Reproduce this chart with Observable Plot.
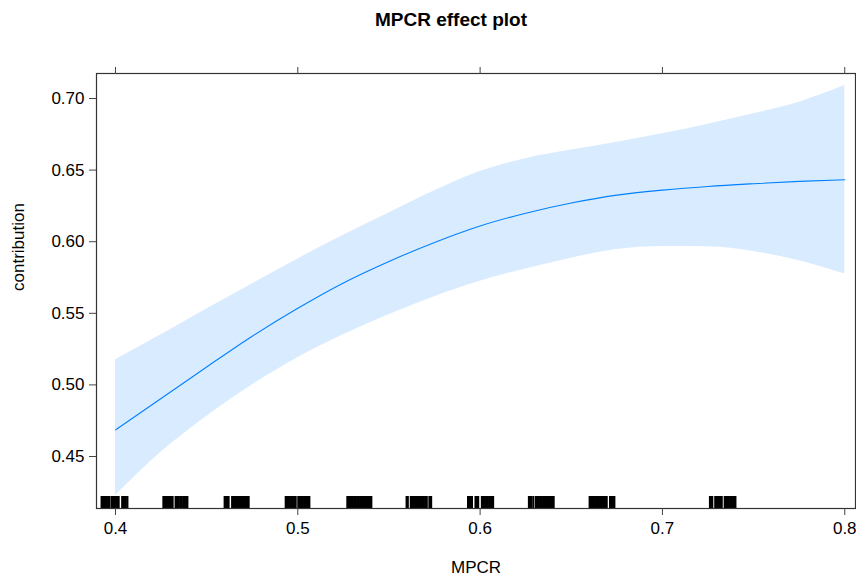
<!DOCTYPE html>
<html>
<head>
<meta charset="utf-8">
<script src="https://cdn.jsdelivr.net/npm/d3@7"></script>
<script src="https://cdn.jsdelivr.net/npm/@observablehq/plot@0.6"></script>
<style>
  html, body { margin: 0; padding: 0; background: #fff; }
  body { width: 856px; height: 579px; overflow: hidden; font-family: "Liberation Sans", Arial, sans-serif; }
  #title { height: 40px; line-height: 40px; text-align: center; font-weight: bold; font-size: 19px; color: #000; padding-left: 46px; box-sizing: border-box; }
</style>
</head>
<body>
<div id="title">MPCR effect plot</div>
<div id="chart"></div>
<script>
// MPCR grid values
const mpcr = [0.4, 0.425, 0.45, 0.475, 0.5, 0.525, 0.55, 0.575, 0.6, 0.625, 0.65, 0.675, 0.7, 0.725, 0.75, 0.775, 0.8];
// fitted contribution
const fit = [0.4686, 0.4905, 0.5125, 0.5340, 0.5535, 0.5712, 0.5862, 0.5995, 0.6110, 0.6199, 0.6270, 0.6325, 0.6360, 0.6386, 0.6405, 0.6421, 0.6433];
// confidence band
const upper = [0.5175, 0.5350, 0.5530, 0.5705, 0.5880, 0.6045, 0.6200, 0.6355, 0.6490, 0.6580, 0.6640, 0.6695, 0.6753, 0.6820, 0.6893, 0.6974, 0.7090];
const lower = [0.4228, 0.4530, 0.4780, 0.5000, 0.5190, 0.5350, 0.5490, 0.5615, 0.5723, 0.5810, 0.5885, 0.5945, 0.5967, 0.5965, 0.5932, 0.5867, 0.5774];
// rug (jittered observed MPCR values)
const rug = [
  0.3924, 0.3929, 0.3935, 0.3941, 0.3946, 0.3952, 0.3960, 0.3966, 0.3979, 0.3985, 0.3991, 0.3998, 0.4004, 0.4010, 0.4017, 0.4037, 0.4043, 0.4049, 0.4056, 0.4065,
  0.4263, 0.4269, 0.4276, 0.4283, 0.4290, 0.4297, 0.4305, 0.4313, 0.4330, 0.4338, 0.4346, 0.4355, 0.4363, 0.4372, 0.4380, 0.4388, 0.4394,
  0.4599, 0.4605, 0.4612, 0.4620, 0.4640, 0.4648, 0.4656, 0.4664, 0.4672, 0.4680, 0.4689, 0.4697, 0.4705, 0.4714, 0.4722, 0.4730,
  0.4934, 0.4941, 0.4948, 0.4956, 0.4964, 0.4972, 0.4980, 0.4988, 0.5003, 0.5011, 0.5019, 0.5027, 0.5035, 0.5043, 0.5051, 0.5058, 0.5063,
  0.5272, 0.5279, 0.5286, 0.5294, 0.5302, 0.5310, 0.5318, 0.5326, 0.5334, 0.5342, 0.5350, 0.5358, 0.5366, 0.5374, 0.5382, 0.5390, 0.5397, 0.5403,
  0.5597, 0.5603, 0.5620, 0.5627, 0.5635, 0.5643, 0.5651, 0.5659, 0.5667, 0.5675, 0.5683, 0.5691, 0.5699, 0.5707, 0.5722, 0.5731,
  0.5934, 0.5941, 0.5948, 0.5955, 0.5975, 0.5982, 0.5989, 0.6010, 0.6018, 0.6026, 0.6034, 0.6042, 0.6050, 0.6058, 0.6065, 0.6071,
  0.6268, 0.6274, 0.6280, 0.6292, 0.6307, 0.6314, 0.6322, 0.6330, 0.6338, 0.6346, 0.6354, 0.6362, 0.6370, 0.6378, 0.6386, 0.6394, 0.6403,
  0.6601, 0.6608, 0.6615, 0.6623, 0.6631, 0.6639, 0.6647, 0.6655, 0.6663, 0.6671, 0.6679, 0.6687, 0.6694, 0.6713, 0.6722, 0.6730, 0.6736,
  0.7261, 0.7267, 0.7273, 0.7290, 0.7297, 0.7304, 0.7311, 0.7318, 0.7325, 0.7342, 0.7349, 0.7356, 0.7364, 0.7372, 0.7380, 0.7388, 0.7395, 0.7400
];
const xTicks = [0.4, 0.5, 0.6, 0.7, 0.8];
const yTicks = [0.45, 0.50, 0.55, 0.60, 0.65, 0.70];

const rows = mpcr.map((m, i) => ({mpcr: m, fit: fit[i], upper: upper[i], lower: lower[i]}));

const chart = Plot.plot({
  width: 856,
  height: 539,
  marginTop: 33,
  marginBottom: 71,
  marginLeft: 96,
  marginRight: 1,
  style: {fontFamily: "Liberation Sans, Arial, sans-serif", fontSize: "16px", color: "#000", background: "#fff"},
  x: {domain: [0.38958, 0.8059], ticks: xTicks, tickFormat: d3.format(".1f"), label: null},
  y: {domain: [0.41369, 0.71746], ticks: yTicks, tickFormat: d3.format(".2f"), label: null},
  marks: [
    Plot.areaY(rows, {x: "mpcr", y1: "lower", y2: "upper", fill: "#0080ff", fillOpacity: 0.15, curve: "monotone-x"}),
    Plot.line(rows, {x: "mpcr", y: "fit", stroke: "#0080ff", strokeWidth: 1.1, curve: "monotone-x"}),
    Plot.ruleX(rug, {x: d => d, stroke: "#000", strokeWidth: 2.2, insetTop: 423}),
    Plot.frame({stroke: "#333", strokeWidth: 1.2}),
    Plot.axisX({anchor: "bottom", ticks: xTicks, tickSize: 7, tickPadding: 6, stroke: "#444", fontSize: 17, tickFormat: d3.format(".1f"), label: null}),
    Plot.axisX({anchor: "top", ticks: xTicks, tickSize: 7, stroke: "#444", tickFormat: () => "", label: null}),
    Plot.axisY({anchor: "left", ticks: yTicks, tickSize: 7, tickPadding: 5, stroke: "#444", fontSize: 17, tickFormat: d3.format(".2f"), label: null}),
    Plot.text(["MPCR"], {frameAnchor: "bottom", dy: 64, fontSize: 17, fill: "#000", text: d => d}),
    Plot.text(["contribution"], {frameAnchor: "left", dx: -78, rotate: -90, fontSize: 17, fill: "#000", text: d => d})
  ]
});
document.getElementById("chart").appendChild(chart);
</script>
</body>
</html>
